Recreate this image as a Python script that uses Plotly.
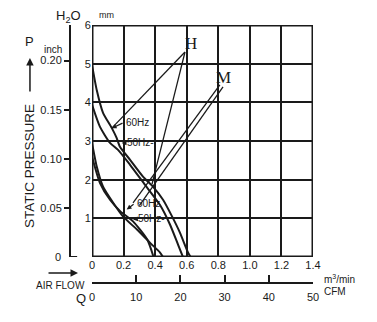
import plotly.graph_objects as go

# Air flow (m3/min) vs static pressure (mmH2O)
h60_q = [0, 0.03, 0.07, 0.125, 0.156, 0.177, 0.24, 0.323, 0.386, 0.45, 0.507, 0.557, 0.608, 0.625]
h60_p = [4.97, 4.32, 3.73, 3.34, 3.08, 2.85, 2.52, 2.08, 1.82, 1.48, 1.05, 0.63, 0.12, 0]
h50_q = [0, 0.05, 0.114, 0.165, 0.24, 0.335, 0.43, 0.494, 0.545, 0.576]
h50_p = [3.94, 3.37, 2.95, 2.77, 2.39, 1.87, 1.35, 0.84, 0.32, 0]
m60_q = [0, 0.03, 0.07, 0.133, 0.196, 0.285, 0.367, 0.43, 0.45]
m60_p = [2.95, 2.34, 1.82, 1.41, 1.05, 0.71, 0.37, 0.12, 0]
m50_q = [0, 0.05, 0.114, 0.18, 0.26, 0.35, 0.39]
m50_p = [2.6, 1.92, 1.48, 1.18, 0.92, 0.45, 0]

q_ticks = [0, 0.2, 0.4, 0.6, 0.8, 1.0, 1.2, 1.4]
q_labels = ["0", "0.2", "0.4", "0.6", "0.8", "1.0", "1.2", "1.4"]
mm_ticks = [1, 2, 3, 4, 5, 6]
inch_ticks = [0.05, 0.10, 0.15, 0.20]
inch_labels = ["0.05", "0.10", "0.15", "0.20"]
cfm_ticks = [0, 10, 20, 30, 40, 50]

INK = "#1a1a1a"
SANS = "Liberation Sans, Arial, sans-serif"
SERIF = "Liberation Serif, Times New Roman, serif"

fig = go.Figure()
for q, p in [(h60_q, h60_p), (h50_q, h50_p), (m60_q, m60_p), (m50_q, m50_p)]:
    fig.add_trace(go.Scatter(x=q, y=p, mode="lines",
                             line=dict(color=INK, width=2, shape="spline", smoothing=0.6),
                             hoverinfo="skip", showlegend=False))

# invisible traces that carry the secondary scales
fig.add_trace(go.Scatter(x=[None], y=[None], yaxis="y2", showlegend=False))
fig.add_trace(go.Scatter(x=[None], y=[None], xaxis="x2", showlegend=False))

X0 = 0.2457  # start of plotting domain (paper fraction)
Y0 = 0.1625

fig.update_layout(
    width=377, height=322,
    margin=dict(l=20, r=64, t=25, b=20),
    paper_bgcolor="white", plot_bgcolor="white",
    font=dict(family=SANS, size=11, color=INK),
    xaxis=dict(domain=[X0, 1], range=[0, 1.4], tickvals=q_ticks, ticktext=q_labels,
               showgrid=True, gridcolor=INK, gridwidth=2, zeroline=False,
               showline=False, ticks="", tickfont=dict(size=11), automargin=False),
    yaxis=dict(domain=[Y0, 1], range=[0, 6], tickvals=mm_ticks,
               showgrid=True, gridcolor=INK, gridwidth=2, zeroline=False,
               showline=False, ticks="", tickfont=dict(size=11), automargin=False),
    yaxis2=dict(overlaying="y", anchor="free", position=0.1706, side="left",
                range=[0, 6 / 25.4], tickvals=inch_ticks, ticktext=inch_labels,
                showline=True, linecolor=INK, linewidth=2, ticks="outside",
                ticklen=5, tickwidth=2, tickcolor=INK, showgrid=False,
                zeroline=False, tickfont=dict(size=11), automargin=False),
    xaxis2=dict(overlaying="x", anchor="free", position=0.0686, side="bottom",
                range=[0, 50], tickvals=cfm_ticks,
                showline=True, linecolor=INK, linewidth=2, ticks="inside",
                ticklen=7, tickwidth=2, tickcolor=INK, showgrid=False,
                zeroline=False, tickfont=dict(size=11), automargin=False,
                ticklabelstandoff=4),
)

# plot frame
fig.add_shape(type="rect", xref="x", yref="y", x0=0, x1=1.4, y0=0, y1=6,
              line=dict(color=INK, width=3))
# foot of the inch scale
fig.add_shape(type="line", xref="paper", yref="y", x0=0.1706, x1=0.195, y0=0, y1=0,
              line=dict(color=INK, width=2))

# leader lines from the H / M tags
leaders = [
    ((0.589, 5.30), (0.127, 3.34)),
    ((0.589, 5.30), (0.38, 1.88)),
    ((0.81, 4.45), (0.26, 1.40)),
    ((0.83, 4.40), (0.30, 1.33)),
]
for (xa, ya), (xb, yb) in leaders:
    fig.add_shape(type="line", xref="x", yref="y", x0=xa, y0=ya, x1=xb, y1=yb,
                  line=dict(color=INK, width=1.3))

# frequency tags with short pointers onto the curves
tags = [
    (0.288, 3.48, "60Hz", 0.125, 3.33),
    (0.31, 2.95, "50Hz-", 0.188, 2.95),
    (0.358, 1.39, "60Hz", 0.22, 1.23),
    (0.377, 0.99, "50Hz-", 0.26, 0.97),
]
for tx, ty, label, px, py in tags:
    fig.add_annotation(xref="x", yref="y", x=tx, y=ty, text=label, showarrow=False,
                       font=dict(size=10))
    fig.add_annotation(xref="x", yref="y", x=px, y=py, ax=tx - 0.085, ay=ty,
                       axref="x", ayref="y", text="", showarrow=True,
                       arrowhead=2, arrowsize=0.8, arrowwidth=1.2, arrowcolor=INK)

fig.add_annotation(xref="x", yref="y", x=0.627, y=5.51, text="H", showarrow=False,
                   font=dict(family=SERIF, size=17))
fig.add_annotation(xref="x", yref="y", x=0.836, y=4.63, text="M", showarrow=False,
                   font=dict(family=SERIF, size=17))

paper_ann = [
    dict(x=0.164, y=1.032, text="H<sub>2</sub>O", font=dict(size=13)),
    dict(x=0.294, y=1.036, text="mm", font=dict(size=9)),
    dict(x=0.034, y=0.942, text="P", font=dict(size=13)),
    dict(x=0.113, y=0.91, text="inch", font=dict(size=10)),
    dict(x=0.13, y=0.162, text="0", font=dict(size=11)),
    dict(x=1.03, y=0.083, text="m<sup>3</sup>/min", xanchor="left", font=dict(size=10)),
    dict(x=1.03, y=0.0397, text="CFM", xanchor="left", font=dict(size=10)),
    dict(x=0.137, y=0.058, text="AIR FLOW", font=dict(size=10)),
    dict(x=0.208, y=0.011, text="Q", font=dict(size=13)),
]
for a in paper_ann:
    a.setdefault("xanchor", "center")
    fig.add_annotation(xref="paper", yref="paper", showarrow=False,
                       yanchor="middle", **a)

fig.add_annotation(xref="paper", yref="paper", x=0.034, y=0.491, text="STATIC PRESSURE",
                   textangle=-90, showarrow=False, xanchor="center", yanchor="middle",
                   font=dict(size=13.5))

# arrows beside P and AIR FLOW
fig.add_annotation(xref="paper", yref="paper", x=0.034, y=0.881, ax=0, ay=35,
                   text="", showarrow=True, arrowhead=2, arrowsize=1,
                   arrowwidth=1.5, arrowcolor=INK)
fig.add_annotation(xref="paper", yref="paper", x=0.198, y=0.1047, ax=-31, ay=0,
                   text="", showarrow=True, arrowhead=2, arrowsize=1,
                   arrowwidth=1.5, arrowcolor=INK)

fig.write_html("out.html")
